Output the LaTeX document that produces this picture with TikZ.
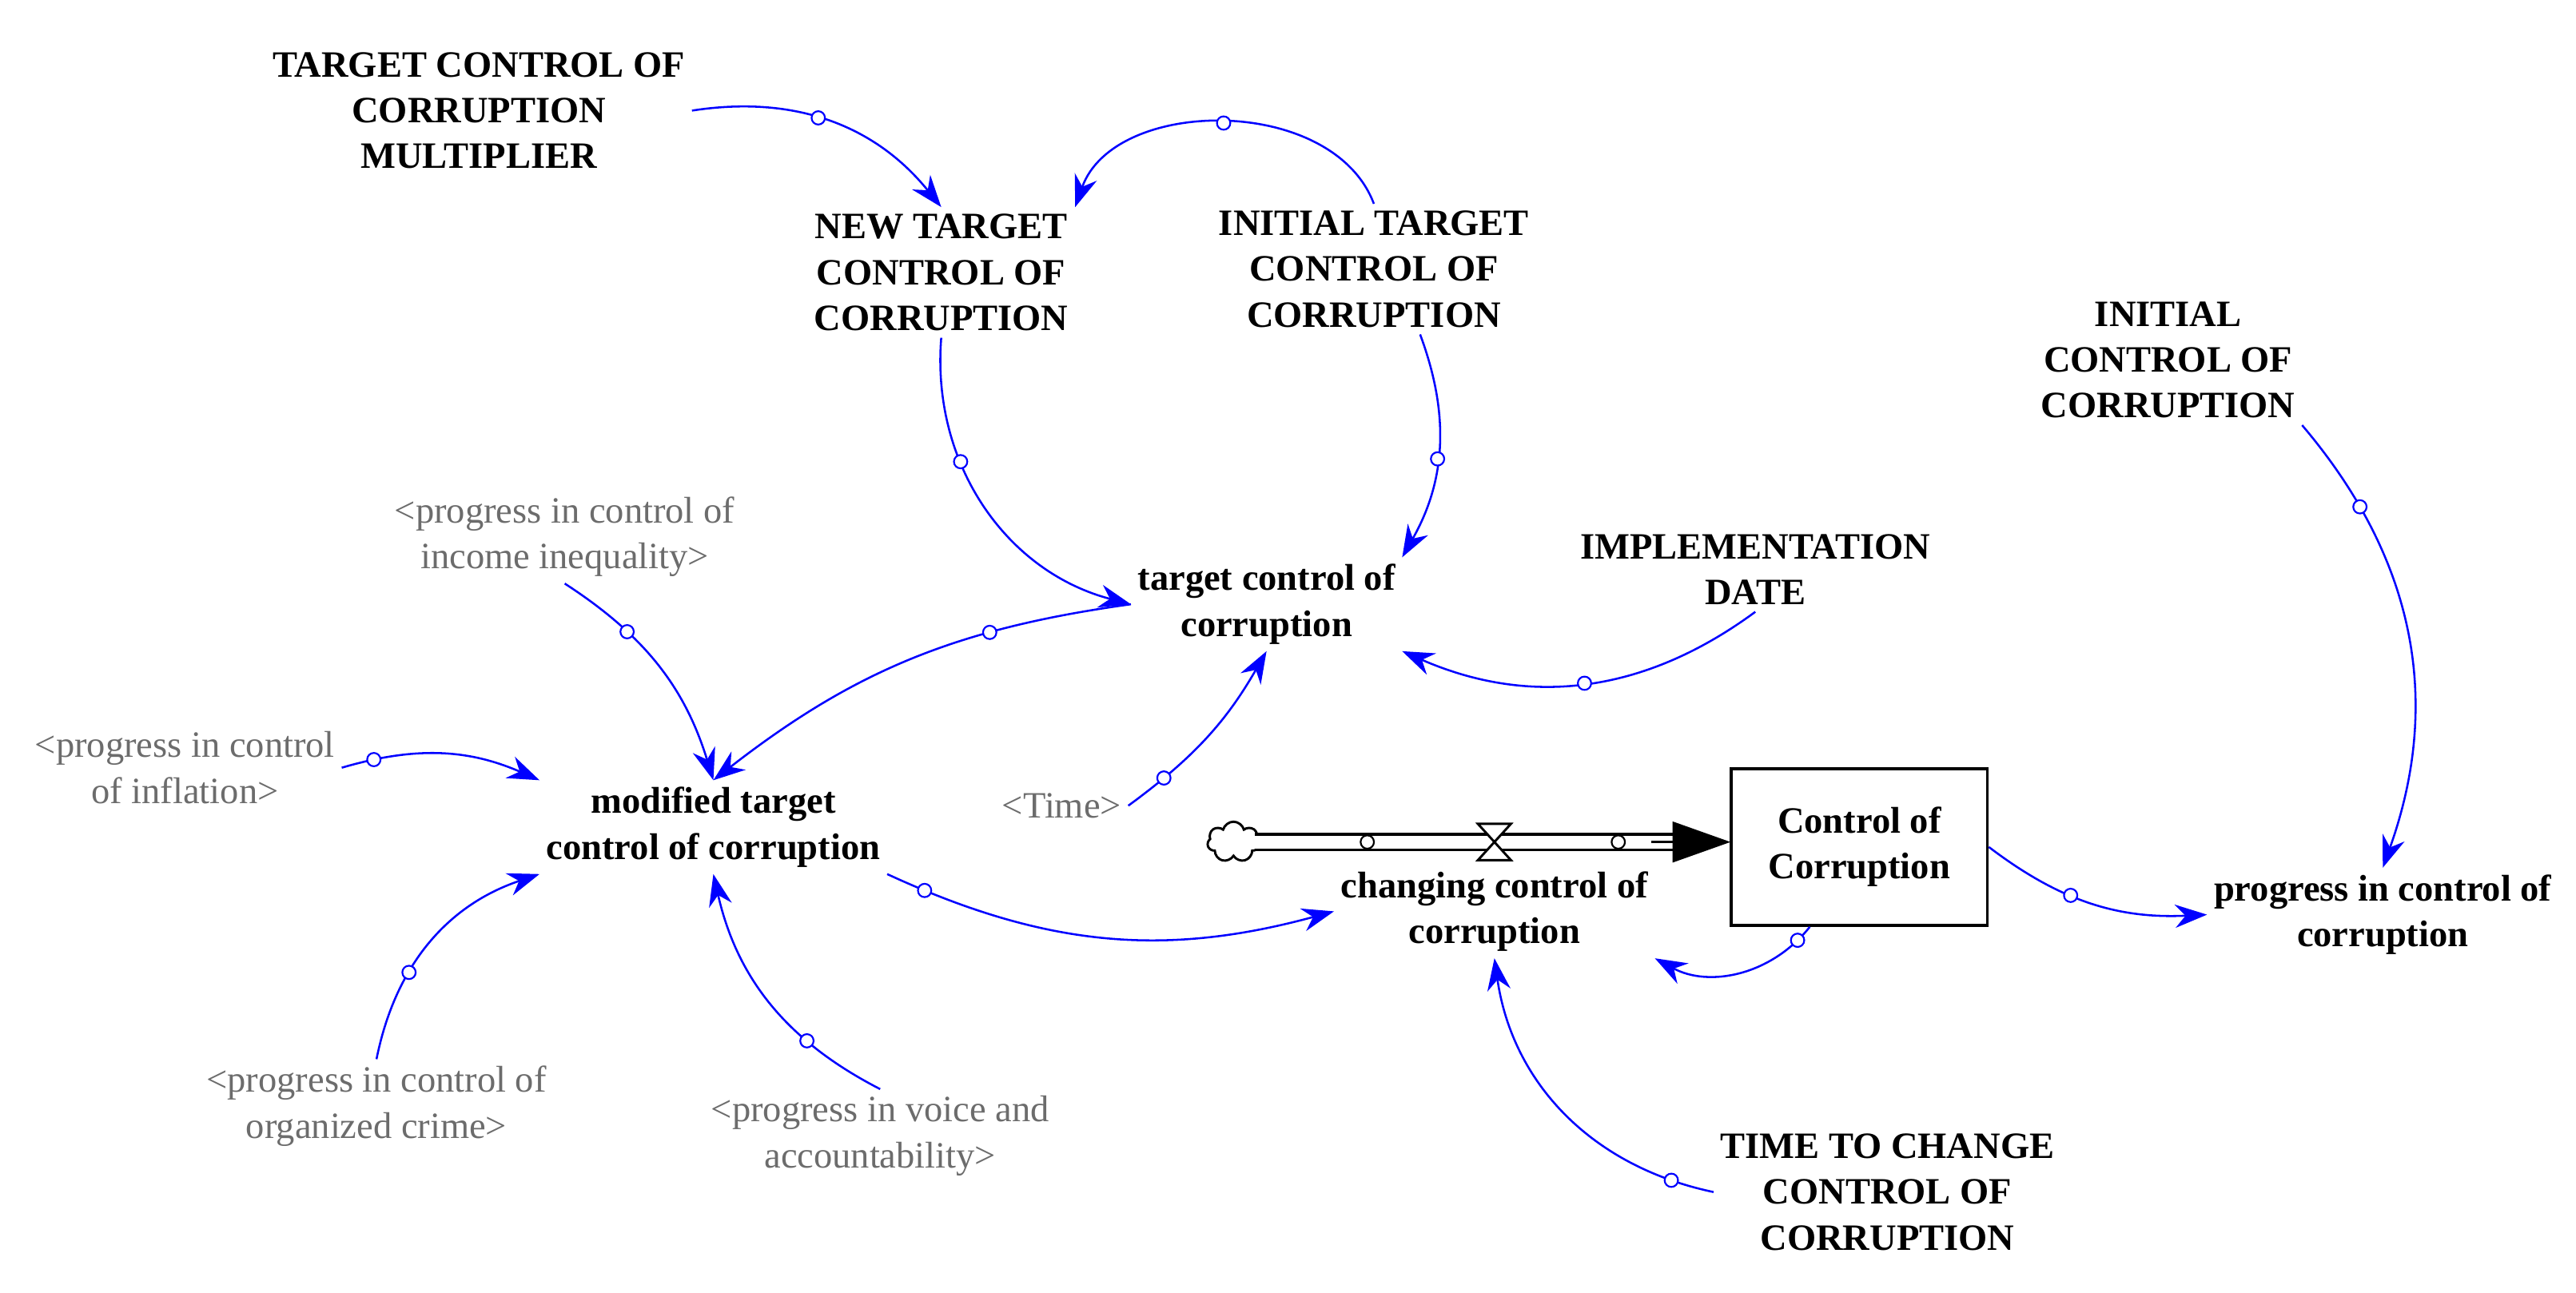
\documentclass[tikz,border=0pt]{standalone}
\usepackage{fontspec}
\setmainfont{Liberation Serif}
\usetikzlibrary{arrows.meta}
\usetikzlibrary{shapes.symbols}

\begin{document}
\begin{tikzpicture}[x=0.01cm,y=-0.01cm,
    lbl/.style={align=center,font=\fontsize{6.4}{7.9}\selectfont\bfseries,inner sep=1pt},
    shd/.style={align=center,font=\fontsize{6.4}{7.9}\selectfont,text=gray!85!black,inner sep=1pt},
    lnk/.style={blue,line width=0.35pt,-{Stealth[length=5.5pt,width=4pt]}},
    mk/.style={circle,draw=blue,fill=white,line width=0.3pt,inner sep=0pt,minimum size=2.3pt}]
  \useasboundingbox (0,0) rectangle (1560,783);

  \node[lbl] (tccm) at (290,67) {TARGET CONTROL OF\\CORRUPTION\\MULTIPLIER};
  \node[lbl] (newt) at (570,165) {NEW TARGET\\CONTROL OF\\CORRUPTION};
  \node[lbl] (initt) at (832,163) {INITIAL TARGET\\CONTROL OF\\CORRUPTION};
  \node[lbl] (initc) at (1313,218) {INITIAL\\CONTROL OF\\CORRUPTION};
  \node[lbl] (impl) at (1063,345) {IMPLEMENTATION\\DATE};
  \node[lbl] (tcc) at (767,366) {target control of\\corruption};
  \node[shd] (pinc) at (342,325) {<progress in control of\\income inequality>};
  \node[shd] (pinf) at (112,465) {<progress in control\\of inflation>};
  \node[shd] (time) at (643,488) {<Time>};
  \node[lbl] (mtc) at (432,501) {modified target\\control of corruption};
  \node[shd] (porg) at (228,670) {<progress in control of\\organized crime>};
  \node[shd] (pvoi) at (533,688) {<progress in voice and\\accountability>};
  \node[lbl] (ttc) at (1143,722) {TIME TO CHANGE\\CONTROL OF\\CORRUPTION};
  \node[lbl] (pcc) at (1443,554) {progress in control of\\corruption};
  \node[lbl,draw,line width=0.5pt,inner sep=0pt,
        minimum width=155*0.01cm,minimum height=95*0.01cm] (coc) at (1126,513) {Control of\\Corruption};
  \node[lbl] (chg) at (905,552) {changing control of\\corruption};
  \node[cloud,draw,cloud puffs=7,aspect=1.3,inner sep=0pt,minimum width=9pt,minimum height=7pt,line width=0.4pt] (src) at (747,510) {};
  \coordinate (pend) at (1048,510);
  \coordinate (pbeg) at (760,510);

  % flow pipe
  \draw[double,double distance=2.2pt,line width=0.45pt] (pbeg) -- (1020,510);
  \draw[-{Triangle[length=10pt,width=7pt]},line width=0.4pt] (1000,510) -- (pend);
  \draw[fill=white,line width=0.4pt] (895,499) -- (915,499) -- (895,521) -- (915,521) -- cycle;
  \node[mk,draw=black] at (828,510) {};
  \node[mk,draw=black] at (980,510) {};

  % links
  \draw[lnk] (tccm.east) to[bend left=30] node[mk,pos=.45]{} (newt.north);
  \draw[lnk] (initt.north) to[bend right=70] node[mk,pos=.5]{} (newt.north east);
  \draw[lnk] (newt.south) to[bend right=40] node[mk,pos=.35]{} (tcc.west);
  \draw[lnk] ([xshift=28*0.01cm]initt.south) to[bend left=25] node[mk,pos=.55]{} (tcc.north east);
  \draw[lnk] (impl.south) to[bend left=30] node[mk,pos=.5]{} (tcc.south east);
  \draw[lnk] (time.east) to[bend right=12] node[mk,pos=.2]{} (tcc.south);
  \draw[lnk] (tcc.west) to[bend right=15] node[mk,pos=.3]{} (mtc.north);
  \draw[lnk] (pinc.south) to[bend left=20] node[mk,pos=.3]{} (mtc.north);
  \draw[lnk] (pinf.east) to[bend left=20] node[mk,pos=.15]{} (mtc.north west);
  \draw[lnk] (porg.north) to[bend left=30] node[mk,pos=.35]{} (mtc.south west);
  \draw[lnk] (pvoi.north) to[bend left=25] node[mk,pos=.3]{} (mtc.south);
  \draw[lnk] (mtc.south east) to[bend right=20] node[mk,pos=.08]{} (chg.west);
  \draw[lnk] ([xshift=-30*0.01cm]coc.south) to[bend left=40] node[mk,pos=.1]{} (chg.south east);
  \draw[lnk] (ttc.west) to[bend left=35] node[mk,pos=.12]{} (chg.south);
  \draw[lnk] (coc.east) to[bend right=20] node[mk,pos=.4]{} (pcc.west);
  \draw[lnk] (initc.south east) to[bend left=30] node[mk,pos=.2]{} (pcc.north);
\end{tikzpicture}
\end{document}
